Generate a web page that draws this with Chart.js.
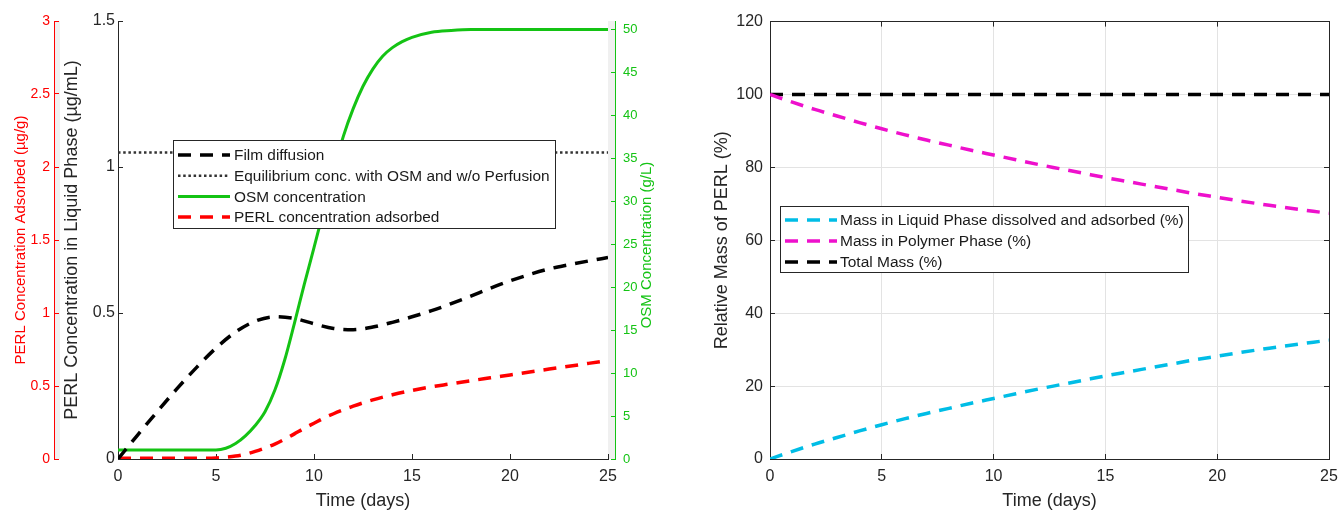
<!DOCTYPE html>
<html><head><meta charset="utf-8">
<script src="https://cdn.jsdelivr.net/npm/chart.js@4.4.1/dist/chart.umd.min.js"></script>
<style>
html,body{margin:0;padding:0;background:#fff;overflow:hidden;}
#wrap{position:relative;width:1341px;height:513px;overflow:hidden;background:#fff;}
canvas{position:absolute;top:0;}
#c1{left:0;} #c2{left:670px;}
</style></head><body>
<div id="wrap"><canvas id="c1" width="670" height="513"></canvas><canvas id="c2" width="681" height="513"></canvas></div>
<script>
// ---------- data (left chart) ----------
const filmDays = [0,1,2,3,4,5,6,7,8,9,10,11,12,13,14,15,16,17,18,19,20,21,22,23,24,25];
const filmConc = [0,0.082,0.162,0.24,0.313,0.38,0.435,0.472,0.487,0.481,0.463,0.447,0.443,0.452,0.468,0.487,0.508,0.532,0.558,0.585,0.61,0.632,0.651,0.665,0.678,0.69];
const eqDays = [0,25];
const eqConc = [1.05,1.05];
const osmDays = [0,1,2,3,4,5,5.5,6,6.5,7,7.5,8,8.5,9,9.5,10,10.5,11,11.5,12,12.5,13,13.5,14,14.5,15,16,17,18,19,20,21,22,23,24,25];
const osmConc = [1.05,1.05,1.05,1.05,1.05,1.05,1.25,1.8,2.7,3.9,5.5,8.0,11.5,15.8,20.3,24.6,29,33.5,37.6,40.8,43.4,45.4,46.9,47.9,48.6,49.1,49.7,49.9,50,50,50,50,50,50,50,50];
const adsDays = [0,1,2,3,4,5,5.5,6,6.5,7,7.5,8,8.5,9,9.5,10,10.5,11,11.5,12,13,14,15,16,17,18,19,20,21,22,23,24,25];
const adsConc = [0.005,0.005,0.005,0.005,0.005,0.007,0.012,0.02,0.033,0.052,0.075,0.102,0.135,0.172,0.21,0.245,0.28,0.31,0.337,0.362,0.405,0.44,0.47,0.495,0.515,0.536,0.556,0.576,0.596,0.616,0.635,0.655,0.675];
// ---------- data (right chart) ----------
const massDays = [0,1,2,3,4,5,6,7,8,9,10,11,12,13,14,15,16,17,18,19,20,21,22,23,24,25];
const liquidMass = [0,2.1,4.1,5.9,7.7,9.4,11.0,12.5,13.9,15.3,16.6,17.9,19.2,20.4,21.6,22.8,23.9,25.0,26.1,27.2,28.2,29.2,30.1,31.0,31.8,32.6];
const polymerMass = [100,97.9,95.9,94.1,92.3,90.6,89.0,87.5,86.1,84.7,83.4,82.1,80.8,79.6,78.4,77.2,76.1,75.0,73.9,72.8,71.8,70.8,69.9,69.0,68.2,67.4];
const totalDays = [0,25];
const totalMass = [100,100];
// ---------- tick settings ----------
const xTickStep = 5;
const leftYStep = 0.5, redYStep = 0.5, osmStep = 5, massStep = 20;

const F = "'Liberation Sans', Arial, Helvetica, sans-serif";
const TXT = '#262626';
const GREEN = '#14c314';
const RED = '#ff0000';
Chart.defaults.font.family = F;

const pts = (xs, ys) => xs.map((x, i) => ({x: x, y: ys[i]}));
const fmt = v => String(Math.round(v * 100) / 100);

const decor = {
  id: 'decor',
  beforeDraw(chart, args, o) {
    const ctx = chart.ctx, a = chart.chartArea;
    ctx.save();
    ctx.fillStyle = '#fff';
    ctx.fillRect(0, 0, chart.width, chart.height);
    if (o.strips) {
      ctx.fillStyle = '#f0f0f0';
      const l = chart.scales.yR.right;
      ctx.fillRect(l, a.top, 6, a.bottom - a.top);
      ctx.fillRect(a.right, a.top, chart.scales.yG.left - a.right, a.bottom - a.top);
    }
    ctx.restore();
  },
  afterDraw(chart, args, o) {
    const ctx = chart.ctx, a = chart.chartArea;
    if (o.rightTitle) {
      ctx.save();
      ctx.fillStyle = o.rightTitle.color;
      ctx.font = o.rightTitle.font;
      ctx.textAlign = 'center';
      ctx.textBaseline = 'middle';
      ctx.translate(chart.scales.yG.left + o.rightTitle.dx, (a.top + a.bottom) / 2 + 5);
      ctx.rotate(-Math.PI / 2);
      ctx.fillText(o.rightTitle.text, 0, 0);
      ctx.restore();
    }
    if (o.legend) {
      const L = o.legend;
      ctx.save();
      ctx.fillStyle = '#fff';
      ctx.fillRect(L.x, L.y, L.w, L.h);
      ctx.strokeStyle = '#262626';
      ctx.lineWidth = 1;
      ctx.strokeRect(L.x + 0.5, L.y + 0.5, L.w, L.h);
      ctx.font = L.font;
      ctx.textBaseline = 'middle';
      chart.data.datasets.forEach((ds, i) => {
        const y = L.y + L.first + i * L.rowH;
        ctx.save();
        ctx.strokeStyle = ds.borderColor;
        ctx.lineWidth = ds.borderWidth;
        ctx.setLineDash(ds.borderDash || []);
        ctx.beginPath();
        ctx.moveTo(L.x + L.sx0, y);
        ctx.lineTo(L.x + L.sx1, y);
        ctx.stroke();
        ctx.restore();
        ctx.fillStyle = '#1a1a1a';
        ctx.fillText(ds.label, L.x + L.tx, y + 1);
      });
      ctx.restore();
    }
  }
};

const DASH = [13, 9];

new Chart(document.getElementById('c1'), {
  type: 'line',
  data: {
    datasets: [
      {label: 'Film diffusion', data: pts(filmDays, filmConc), yAxisID: 'y', borderColor: '#000', borderWidth: 3.5, borderDash: DASH, pointRadius: 0, cubicInterpolationMode: 'monotone', fill: false},
      {label: 'Equilibrium conc. with OSM and w/o Perfusion', data: pts(eqDays, eqConc), yAxisID: 'y', borderColor: '#333', borderWidth: 2.5, borderDash: [2.5, 2.7], pointRadius: 0, fill: false},
      {label: 'OSM concentration', data: pts(osmDays, osmConc), yAxisID: 'yG', borderColor: GREEN, borderWidth: 3, pointRadius: 0, cubicInterpolationMode: 'monotone', fill: false},
      {label: 'PERL concentration adsorbed', data: pts(adsDays, adsConc), yAxisID: 'yR', borderColor: RED, borderWidth: 3.5, borderDash: DASH, pointRadius: 0, cubicInterpolationMode: 'monotone', fill: false}
    ]
  },
  options: {
    responsive: false, animation: false, devicePixelRatio: 1,
    layout: {padding: {top: 21, left: 0, right: 0, bottom: 0}},
    plugins: {
      legend: {display: false}, tooltip: {enabled: false},
      decor: {
        strips: true,
        rightTitle: {text: 'OSM Concentration (g/L)', color: GREEN, font: "15px " + F, dx: 32},
        legend: {x: 173, y: 140, w: 382, h: 88, first: 15, rowH: 20.7, sx0: 5, sx1: 57, tx: 61, font: "15.4px " + F}
      }
    },
    scales: {
      x: {
        type: 'linear', position: 'bottom', weight: 0, min: 0, max: 25,
        ticks: {stepSize: xTickStep, color: TXT, font: {size: 16}, padding: 13, maxRotation: 0, callback: fmt},
        grid: {drawOnChartArea: false, tickLength: -5, tickColor: TXT},
        border: {color: TXT, width: 1},
        title: {display: true, text: 'Time (days)', color: TXT, font: {size: 18}, padding: {top: 0, bottom: 1}},
        afterFit(s) { s.height = 54; }
      },
      y: {
        type: 'linear', position: 'left', weight: 1, min: 0, max: 1.5,
        ticks: {stepSize: leftYStep, color: TXT, font: {size: 16}, padding: 8, callback: fmt},
        grid: {drawOnChartArea: false, tickLength: -5, tickColor: TXT},
        border: {color: TXT, width: 1},
        title: {display: true, text: 'PERL Concentration in Liquid Phase (µg/mL)', color: TXT, font: {size: 18}, padding: {top: 7, bottom: 0}},
        afterFit(s) { s.width = 64; }
      },
      yR: {
        type: 'linear', position: 'left', weight: 2, min: 0, max: 3,
        ticks: {stepSize: redYStep, color: RED, font: {size: 14}, padding: 9, callback: fmt},
        grid: {drawOnChartArea: false, tickLength: -5, tickColor: RED},
        border: {color: RED, width: 1},
        title: {display: true, text: 'PERL Concentration Adsorbed (µg/g)', color: RED, font: {size: 15}, padding: {top: 12, bottom: 0}},
        afterFit(s) { s.width = 54; }
      },
      gap: {
        type: 'linear', position: 'right', weight: 1, min: 0, max: 1,
        ticks: {display: false}, grid: {display: false}, border: {display: false},
        afterFit(s) { s.width = 7; }
      },
      yG: {
        type: 'linear', position: 'right', weight: 2, min: 0, max: 51,
        ticks: {stepSize: osmStep, color: GREEN, font: {size: 13}, padding: 12, includeBounds: false, callback: fmt},
        grid: {drawOnChartArea: false, tickLength: -4, tickColor: GREEN},
        border: {color: GREEN, width: 1},
        title: {display: false},
        afterFit(s) { s.width = 55; }
      }
    }
  },
  plugins: [decor]
});

new Chart(document.getElementById('c2'), {
  type: 'line',
  data: {
    datasets: [
      {label: 'Mass in Liquid Phase dissolved and adsorbed (%)', data: pts(massDays, liquidMass), borderColor: '#00bde6', borderWidth: 3.5, borderDash: DASH, pointRadius: 0, cubicInterpolationMode: 'monotone', fill: false},
      {label: 'Mass in Polymer Phase (%)', data: pts(massDays, polymerMass), borderColor: '#ee10cc', borderWidth: 3.5, borderDash: DASH, pointRadius: 0, cubicInterpolationMode: 'monotone', fill: false},
      {label: 'Total Mass (%)', data: pts(totalDays, totalMass), borderColor: '#000', borderWidth: 3.5, borderDash: DASH, pointRadius: 0, fill: false}
    ]
  },
  options: {
    responsive: false, animation: false, devicePixelRatio: 1,
    layout: {padding: {top: 21, left: 0, right: 0, bottom: 0}},
    plugins: {
      legend: {display: false}, tooltip: {enabled: false},
      decor: {
        legend: {x: 110, y: 206, w: 408, h: 66, first: 14, rowH: 21, sx0: 5, sx1: 57, tx: 60, font: "15.5px " + F}
      }
    },
    scales: {
      x: {
        type: 'linear', position: 'bottom', weight: 0, min: 0, max: 25,
        ticks: {stepSize: xTickStep, color: TXT, font: {size: 16}, padding: 13, maxRotation: 0, callback: fmt},
        grid: {color: '#e3e3e3', tickLength: -5, tickColor: TXT},
        border: {color: TXT, width: 1},
        title: {display: true, text: 'Time (days)', color: TXT, font: {size: 18}, padding: {top: 0, bottom: 1}},
        afterFit(s) { s.height = 54; }
      },
      y: {
        type: 'linear', position: 'left', weight: 1, min: 0, max: 120,
        ticks: {stepSize: massStep, color: TXT, font: {size: 16}, padding: 12, callback: fmt},
        grid: {color: '#e3e3e3', tickLength: -5, tickColor: TXT},
        border: {color: TXT, width: 1},
        title: {display: true, text: 'Relative Mass of PERL (%)', color: TXT, font: {size: 18}, padding: {top: 41, bottom: 0}},
        afterFit(s) { s.width = 100; }
      },
      xTop: {
        type: 'linear', position: 'top', weight: 2, min: 0, max: 25,
        ticks: {stepSize: xTickStep, display: false},
        grid: {drawOnChartArea: false, tickLength: -5, tickColor: TXT},
        border: {color: TXT, width: 1},
        afterFit(s) { s.height = 0; }
      },
      yRight: {
        type: 'linear', position: 'right', weight: 1, min: 0, max: 120,
        ticks: {stepSize: massStep, display: false},
        grid: {drawOnChartArea: false, tickLength: -5, tickColor: TXT},
        border: {color: TXT, width: 1},
        afterFit(s) { s.width = 22; }
      }
    }
  },
  plugins: [decor]
});
</script>
</body></html>
